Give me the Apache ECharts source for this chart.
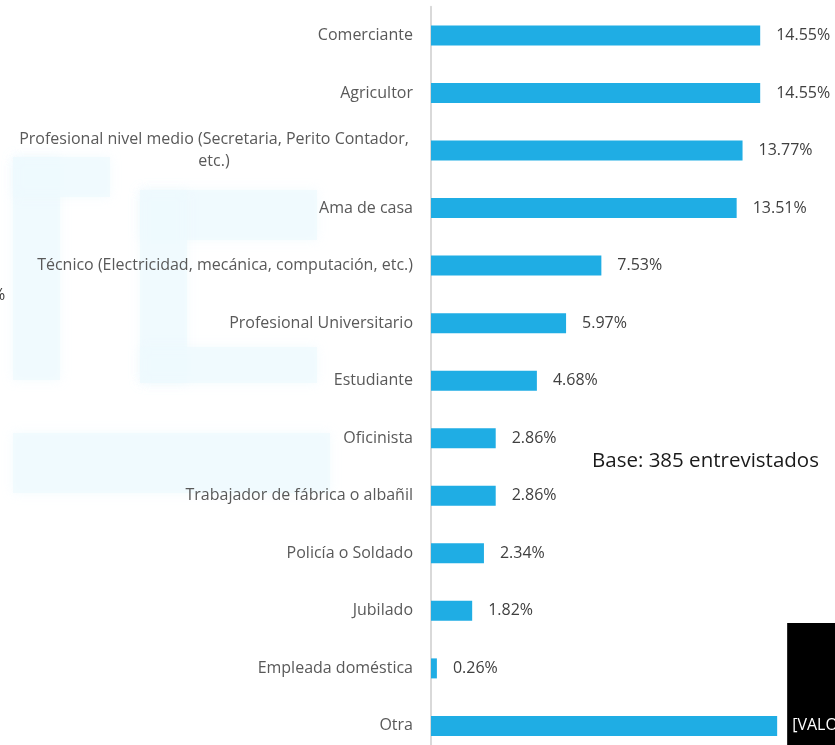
<!DOCTYPE html>
<html>
<head>
<meta charset="utf-8">
<script src="https://cdn.jsdelivr.net/npm/echarts@6/dist/echarts.min.js"></script>
<style>
  html, body { margin: 0; padding: 0; background: #ffffff; }
  #chart { width: 835px; height: 745px; }
</style>
</head>
<body>
<div id="chart"></div>
<script>
// Occupation of respondents (% of 385 interviews)
const categories = [
  'Comerciante',
  'Agricultor',
  'Profesional nivel medio (Secretaria, Perito Contador,\netc.)',
  'Ama de casa',
  'Técnico (Electricidad, mecánica, computación, etc.)',
  'Profesional Universitario',
  'Estudiante',
  'Oficinista',
  'Trabajador de fábrica o albañil',
  'Policía o Soldado',
  'Jubilado',
  'Empleada doméstica',
  'Otra'
];
const values = [14.55, 14.55, 13.77, 13.51, 7.53, 5.97, 4.68, 2.86, 2.86, 2.34, 1.82, 0.26, 15.30];
// Bars whose label is a placeholder instead of the number
const placeholderLabels = { 'Otra': '[VALOR]' };
const baseNote = 'Base: 385 entrevistados';

const FONT = 'Open Sans';
const BAR = '#1FADE4';

const seriesData = values.map((v, i) => {
  const name = categories[i];
  if (placeholderLabels[name]) {
    return {
      value: v,
      label: {
        formatter: placeholderLabels[name],
        color: '#ffffff',
        backgroundColor: '#000000',
        padding: [95, 10, 95, 5],
        distance: 10
      }
    };
  }
  return v;
});

const chart = echarts.init(document.getElementById('chart'), null, { renderer: 'canvas' });

// faint logo shapes in the background
const wm = '#eef9fe';
const watermark = [
  [13, 157, 47, 223],
  [13, 157, 97, 40],
  [140, 190, 177, 50],
  [140, 190, 47, 193],
  [140, 347, 177, 36],
  [13, 433, 317, 60]
].map(r => ({
  type: 'rect',
  z: -10,
  silent: true,
  shape: { x: r[0], y: r[1], width: r[2], height: r[3] },
  style: { fill: wm, opacity: 0.7, shadowBlur: 10, shadowColor: wm }
}));

chart.setOption({
  backgroundColor: '#ffffff',
  animation: false,
  // plot area runs a little past the bottom edge of the canvas
  grid: {
    left: 431, right: 42, top: 6.7, height: 748,
    containLabel: false,
    outerBoundsMode: 'none'
  },
  xAxis: {
    type: 'value',
    min: 0,
    max: 16,
    show: false
  },
  yAxis: {
    type: 'category',
    inverse: true,
    data: categories,
    axisLine: { show: true, lineStyle: { color: '#d9d9d9', width: 2 } },
    axisTick: { show: false },
    splitLine: { show: false },
    axisLabel: {
      margin: 18,
      color: '#595959',
      fontFamily: FONT,
      fontSize: 16,
      formatter: (val) => {
        if (val.indexOf('\n') >= 0) {
          return val.split('\n').map(s => '{c|' + s + '}').join('\n');
        }
        return val;
      },
      rich: {
        c: { width: 398, align: 'center', color: '#595959', fontFamily: FONT, fontSize: 16, lineHeight: 22 }
      }
    }
  },
  series: [{
    type: 'bar',
    data: seriesData,
    barWidth: 20,
    itemStyle: { color: BAR },
    label: {
      show: true,
      position: 'right',
      distance: 16,
      color: '#404040',
      fontFamily: FONT,
      fontSize: 16,
      formatter: (p) => p.value.toFixed(2) + '%'
    }
  }],
  graphic: watermark.concat([
    {
      type: 'text',
      left: 592,
      top: 451,
      silent: true,
      style: { text: baseNote, fill: '#1a1a1a', font: '20.5px "' + FONT + '"' }
    },
    {
      type: 'text',
      left: -8,
      top: 287,
      silent: true,
      style: { text: '%', fill: '#404040', font: '16px "' + FONT + '"' }
    }
  ])
});
</script>
</body>
</html>
